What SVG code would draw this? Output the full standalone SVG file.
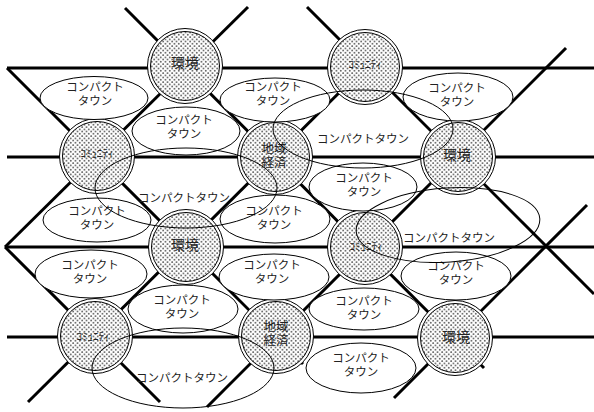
<svg xmlns="http://www.w3.org/2000/svg" width="594" height="412" viewBox="0 0 594 412">
<style>
.ln{stroke:#000;stroke-width:3;fill:none;stroke-linecap:butt}
.outer{fill:#fff;stroke:#000;stroke-width:1}
.inner{fill:url(#dots);stroke:#000;stroke-width:1}
.el{fill:#fff;stroke:#000;stroke-width:1}
.big{fill:none;stroke:#000;stroke-width:1}
text{font-family:"Liberation Sans","Noto Sans CJK JP",sans-serif;fill:#222;text-anchor:middle;dominant-baseline:central}
.t{font-size:11.5px}
.n{font-size:14px}
.n2{font-size:12.5px}
.s{font-size:11px}
</style>
<defs>
<pattern id="dots" width="4.5" height="4.5" patternUnits="userSpaceOnUse">
<rect width="4.5" height="4.5" fill="#fff"/>
<circle cx="1.1" cy="1.1" r="0.8" fill="#333"/>
<circle cx="3.35" cy="3.35" r="0.8" fill="#333"/>
</pattern>
</defs>
<g id="connectors">
<line class="ln" x1="7" y1="68" x2="594" y2="68"/>
<line class="ln" x1="7" y1="157" x2="594" y2="157"/>
<line class="ln" x1="5" y1="247" x2="594" y2="247"/>
<line class="ln" x1="7" y1="337" x2="594" y2="337"/>
<line class="ln" x1="125" y1="8" x2="484" y2="368"/>
<line class="ln" x1="248" y1="7" x2="5" y2="247"/>
<line class="ln" x1="5" y1="247" x2="160" y2="402"/>
<line class="ln" x1="7" y1="68" x2="303" y2="364"/>
<line class="ln" x1="365" y1="67" x2="28" y2="402"/>
<line class="ln" x1="566" y1="48" x2="207" y2="407"/>
<line class="ln" x1="587" y1="205" x2="394" y2="398"/>
<line class="ln" x1="307" y1="7" x2="594" y2="294"/>
</g>
<g id="c1"><circle class="outer" cx="185" cy="66" r="37.5"/><circle class="inner" cx="185" cy="66" r="34.5"/><text class="n" x="185" y="63">環境</text></g>
<g id="c2"><circle class="outer" cx="365" cy="67" r="37.5"/><circle class="inner" cx="365" cy="67" r="34.5"/><text class="s" x="365" y="65">ｺﾐｭﾆﾃｨ</text></g>
<g id="c3"><circle class="outer" cx="97" cy="156" r="37.5"/><circle class="inner" cx="97" cy="156" r="34.5"/><text class="s" x="97" y="154">ｺﾐｭﾆﾃｨ</text></g>
<g id="c4"><circle class="outer" cx="275" cy="157" r="37.5"/><circle class="inner" cx="275" cy="157" r="34.5"/><text class="n2" x="274" y="149">地域</text><text class="n2" x="274" y="163">経済</text></g>
<g id="c5"><circle class="outer" cx="458" cy="157" r="37.5"/><circle class="inner" cx="458" cy="157" r="34.5"/><text class="n" x="457" y="155">環境</text></g>
<g id="c6"><circle class="outer" cx="186" cy="247" r="37.5"/><circle class="inner" cx="186" cy="247" r="34.5"/><text class="n" x="185" y="245">環境</text></g>
<g id="c7"><circle class="outer" cx="365" cy="247" r="37.5"/><circle class="inner" cx="365" cy="247" r="34.5"/><text class="s" x="366" y="247">ｺﾐｭﾆﾃｨ</text></g>
<g id="c8"><circle class="outer" cx="95" cy="336" r="37.5"/><circle class="inner" cx="95" cy="336" r="34.5"/><text class="s" x="93" y="337">ｺﾐｭﾆﾃｨ</text></g>
<g id="c9"><circle class="outer" cx="276" cy="336" r="37.5"/><circle class="inner" cx="276" cy="336" r="34.5"/><text class="n2" x="276" y="327">地域</text><text class="n2" x="276" y="341">経済</text></g>
<g id="c10"><circle class="outer" cx="455" cy="338" r="37.5"/><circle class="inner" cx="455" cy="338" r="34.5"/><text class="n" x="456" y="337">環境</text></g>
<g id="e1"><ellipse class="el" cx="94" cy="98" rx="54" ry="21.5"/><text class="t" x="95" y="87">コンパクト</text><text class="t" x="95" y="101">タウン</text></g>
<g id="e2"><ellipse class="el" cx="186" cy="131" rx="54" ry="24"/><text class="t" x="184" y="120">コンパクト</text><text class="t" x="184" y="134">タウン</text></g>
<g id="e3"><ellipse class="el" cx="275" cy="100" rx="55" ry="22"/><text class="t" x="273" y="87">コンパクト</text><text class="t" x="273" y="101">タウン</text></g>
<g id="e4"><ellipse class="el" cx="458" cy="97" rx="55" ry="24"/><text class="t" x="457" y="88">コンパクト</text><text class="t" x="457" y="102">タウン</text></g>
<g id="e6"><ellipse class="el" cx="363" cy="187" rx="54" ry="24"/><text class="t" x="364" y="178">コンパクト</text><text class="t" x="364" y="192">タウン</text></g>
<g id="e8"><ellipse class="el" cx="97" cy="220" rx="54" ry="22"/><text class="t" x="97" y="211">コンパクト</text><text class="t" x="97" y="225">タウン</text></g>
<g id="e9"><ellipse class="el" cx="275" cy="219" rx="55" ry="24"/><text class="t" x="274" y="211">コンパクト</text><text class="t" x="274" y="225">タウン</text></g>
<g id="e11"><ellipse class="el" cx="91" cy="274" rx="56" ry="24"/><text class="t" x="90" y="265">コンパクト</text><text class="t" x="90" y="279">タウン</text></g>
<g id="e12"><ellipse class="el" cx="274" cy="277" rx="55" ry="23"/><text class="t" x="272" y="265">コンパクト</text><text class="t" x="272" y="279">タウン</text></g>
<g id="e13"><ellipse class="el" cx="456" cy="276" rx="55" ry="24"/><text class="t" x="456" y="266">コンパクト</text><text class="t" x="456" y="280">タウン</text></g>
<g id="e14"><ellipse class="el" cx="183" cy="309" rx="55" ry="24"/><text class="t" x="182" y="300">コンパクト</text><text class="t" x="182" y="314">タウン</text></g>
<g id="e15"><ellipse class="el" cx="364" cy="309" rx="55" ry="21"/><text class="t" x="364" y="301">コンパクト</text><text class="t" x="364" y="315">タウン</text></g>
<g id="e17"><ellipse class="el" cx="361" cy="368" rx="55" ry="25"/><text class="t" x="361" y="358">コンパクト</text><text class="t" x="361" y="372">タウン</text></g>
<g id="e5"><ellipse class="big" cx="363" cy="129" rx="90" ry="39"/><text class="t" x="363" y="139">コンパクトタウン</text></g>
<g id="e7"><ellipse class="big" cx="186" cy="188" rx="91" ry="40"/><text class="t" x="184" y="198">コンパクトタウン</text></g>
<g id="e10"><ellipse class="big" cx="448" cy="225" rx="92" ry="37" transform="rotate(-4 448 225)"/><text class="t" x="449" y="238">コンパクトタウン</text></g>
<g id="e16"><ellipse class="big" cx="183" cy="368" rx="91" ry="40"/><text class="t" x="182" y="378">コンパクトタウン</text></g>
</svg>
